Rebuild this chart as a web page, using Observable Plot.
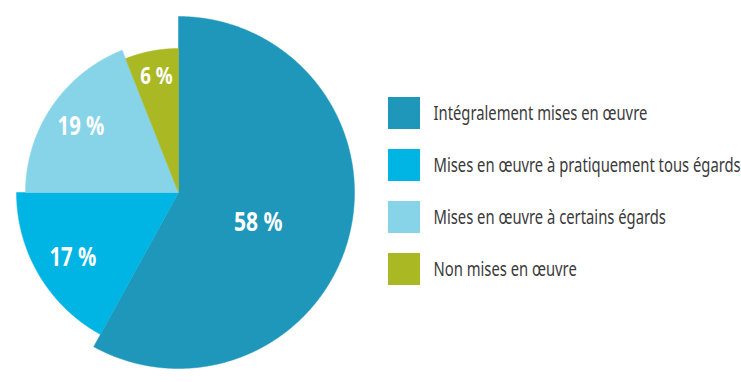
<!DOCTYPE html>
<html>
<head>
<meta charset="utf-8">
<script src="https://cdn.jsdelivr.net/npm/d3@7"></script>
<script src="https://cdn.jsdelivr.net/npm/@observablehq/plot@0.6"></script>
<style>
  html, body { margin: 0; padding: 0; background: #ffffff; }
  #chart svg { display: block; }
</style>
</head>
<body>
<div id="chart"></div>
<script>
// ---- Data ----
const categories = [
  "Intégralement mises en œuvre",
  "Mises en œuvre à pratiquement tous égards",
  "Mises en œuvre à certains égards",
  "Non mises en œuvre"
];
const values = [58, 17, 19, 6];
const valueLabels = ["58 %", "17 %", "19 %", "6 %"];

// ---- Style / layout ----
const colors = ["#1e97ba", "#00b4e4", "#87d4e8", "#aab824"];
const W = 741, H = 382;
const cx = 178, cy = 192;
const sliceRadius = [176, 162, 153, 144];
const labelRadius = [85, 124, 118, 118];
const labelAngleShift = [6, -1, 0, 0]; // degrees
const labelSize = [27, 26, 26, 24];
const legendX = 388, legendBox = 32, legendTextX = 433, legendY0 = 113, legendStep = 52;
const FONT = "'Noto Sans', 'Open Sans', sans-serif";
const labelSquash = 0.78, legendSquash = 0.74;

const arcs = d3.pie().sort(null).value(d => d.value)(
  categories.map((c, i) => ({category: c, value: values[i], label: valueLabels[i], i}))
);

// polygon vertices of each slice
const slicePts = [];
arcs.forEach(a => {
  const r = sliceRadius[a.data.i];
  slicePts.push({category: a.data.category, x: cx, y: cy});
  const n = Math.max(2, Math.ceil((a.endAngle - a.startAngle) / (Math.PI / 720)));
  for (let k = 0; k <= n; k++) {
    const t = a.startAngle + (a.endAngle - a.startAngle) * k / n;
    slicePts.push({category: a.data.category, x: cx + r * Math.sin(t), y: cy - r * Math.cos(t)});
  }
  slicePts.push({category: a.data.category, x: cx, y: cy});
});

const labelPts = arcs.map(a => {
  const t = (a.startAngle + a.endAngle) / 2 + labelAngleShift[a.data.i] * Math.PI / 180;
  const r = labelRadius[a.data.i];
  return {label: a.data.label, x: cx + r * Math.sin(t), y: cy - r * Math.cos(t)};
});

const legend = categories.map((c, i) => ({category: c, y: legendY0 + i * legendStep}));

const plot = Plot.plot({
  width: W,
  height: H,
  margin: 0,
  x: {type: "identity", axis: null},
  y: {type: "identity", axis: null},
  color: {domain: categories, range: colors},
  style: {fontFamily: FONT, background: "#ffffff"},
  marks: [
    Plot.line(slicePts, {x: "x", y: "y", z: "category", fill: "category", stroke: "category", strokeWidth: 0.5, curve: "linear"}),
    ...[0,1,2,3].map(i => Plot.text(labelPts.filter((d, j) => j === i), {
      x: "x", y: "y", text: "label", fill: "white", fontWeight: "bold", fontSize: labelSize[i], fontFamily: FONT,
      className: "pie-label"
    })),
    Plot.rect(legend, {x1: legendX, x2: legendX + legendBox, y1: d => d.y - legendBox / 2, y2: d => d.y + legendBox / 2, fill: "category"}),
    Plot.text(legend, {x: legendTextX, y: "y", text: "category", textAnchor: "start", fill: "#3a3a3a", fontSize: 20, fontFamily: FONT, className: "legend-label"})
  ]
});

// horizontally condense text (reference uses a condensed typeface)
function squash(sel, k) {
  d3.select(plot).selectAll(sel).each(function() {
    const t = d3.select(this);
    const tr = t.attr("transform") || "";
    t.attr("transform", `${tr} scale(${k},1)`.trim());
  });
}
squash(".pie-label text", labelSquash);
squash(".legend-label text", legendSquash);

document.getElementById("chart").append(plot);
</script>
</body>
</html>
